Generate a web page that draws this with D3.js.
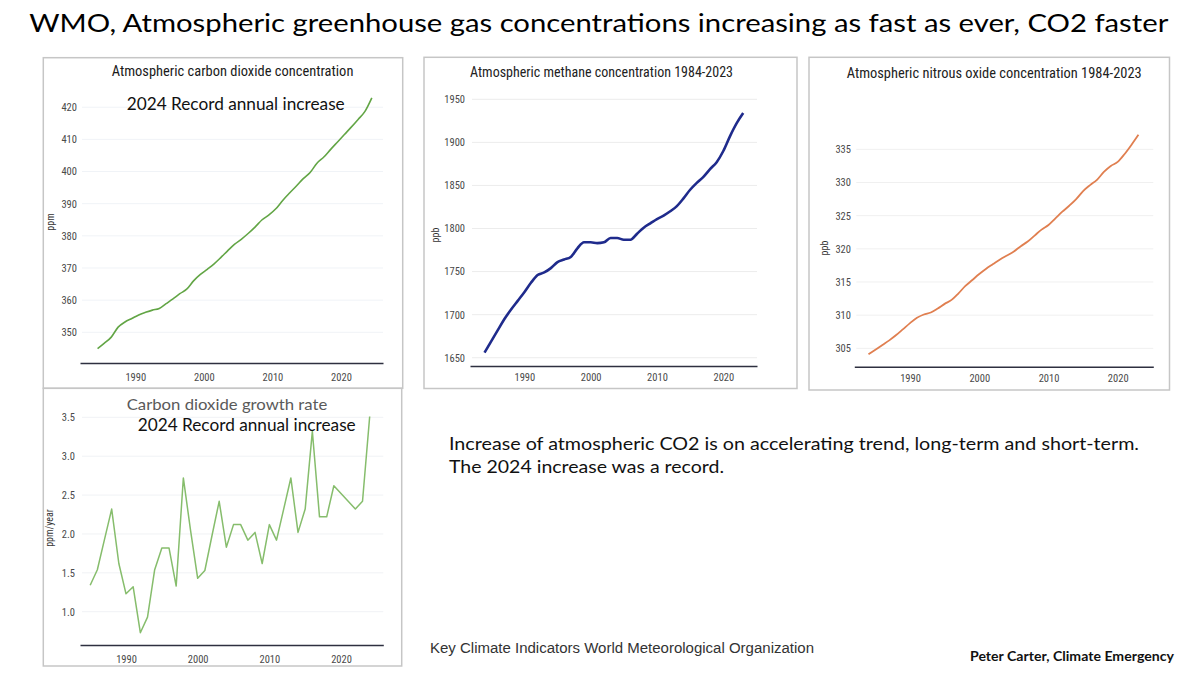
<!DOCTYPE html>
<html>
<head>
<meta charset="utf-8">
<script src="https://cdn.jsdelivr.net/npm/d3@7/dist/d3.min.js"></script>
<style>
  body { margin: 0; background: #fff; }
  svg { display: block; }
</style>
</head>
<body>
<script>
// ---- data ----
const co2Years = d3.range(1984, 2025);
const co2Values = [344.9, 346.6, 348.5, 351.6, 353.2, 354.3, 355.4, 356.2, 356.9, 357.4,
  358.9, 360.4, 362.0, 363.4, 366.0, 368.0, 369.6, 371.3, 373.3, 375.4,
  377.4, 379.0, 380.8, 382.8, 385.0, 386.5, 388.4, 391.0, 393.3, 395.5,
  397.8, 399.7, 402.6, 404.5, 406.9, 409.2, 411.5, 413.8, 416.2, 418.7, 422.9];

const growthYears = d3.range(1985, 2025);
const growthValues = [1.34, 1.54, 1.93, 2.32, 1.62, 1.23, 1.32, 0.73, 0.93, 1.54,
  1.82, 1.82, 1.33, 2.72, 2.05, 1.43, 1.53, 1.98, 2.42, 1.83,
  2.12, 2.12, 1.92, 2.02, 1.62, 2.12, 1.92, 2.32, 2.72, 2.02,
  2.32, 3.32, 2.22, 2.22, 2.62, 2.52, 2.42, 2.32, 2.42, 3.51];

const ch4Years = d3.range(1984, 2024);
const ch4Values = [1656, 1669, 1682, 1695, 1706, 1716, 1726, 1737, 1746, 1749,
  1754, 1761, 1764, 1767, 1777, 1784, 1784, 1783, 1784, 1789,
  1789, 1787, 1787, 1794, 1801, 1806, 1811, 1815, 1820, 1826,
  1835, 1845, 1853, 1860, 1869, 1877, 1890, 1907, 1922, 1934];

const n2oYears = d3.range(1984, 2024);
const n2oValues = [304.1, 304.8, 305.5, 306.2, 307.0, 307.9, 308.8, 309.6, 310.1, 310.4,
  311.0, 311.7, 312.3, 313.3, 314.4, 315.3, 316.2, 317.0, 317.7, 318.4,
  319.0, 319.6, 320.4, 321.1, 322.0, 322.9, 323.6, 324.6, 325.6, 326.5,
  327.5, 328.7, 329.6, 330.4, 331.6, 332.5, 333.1, 334.3, 335.7, 337.2];

const yearTicks = [1990, 2000, 2010, 2020];
const co2Ticks = [350, 360, 370, 380, 390, 400, 410, 420];
const ch4Ticks = [1650, 1700, 1750, 1800, 1850, 1900, 1950];
const n2oTicks = [305, 310, 315, 320, 325, 330, 335];
const growthTicks = [1.0, 1.5, 2.0, 2.5, 3.0, 3.5];

const narrowFont = "'Liberation Sans Narrow', 'Roboto Condensed', Roboto, sans-serif";
const slideFont = "Lato, 'Open Sans', sans-serif";

const svg = d3.select("body").append("svg")
  .attr("width", 1200)
  .attr("height", 675);

function zip(xs, vs) {
  return xs.map((d, i) => ({year: d, value: vs[i]}));
}

function addText(g, x, y, str, size, width, family, fill, weight) {
  let t = g.append("text")
    .attr("x", x)
    .attr("y", y)
    .text(str)
    .style("font-size", size + "px")
    .style("font-family", family)
    .style("fill", fill)
    .style("font-weight", weight || "normal");
  if (width) t.attr("textLength", width).attr("lengthAdjust", "spacingAndGlyphs");
  return t;
}

function drawPanel(p) {
  const g = svg.append("g");

  g.append("rect")
    .attr("x", p.box[0])
    .attr("y", p.box[1])
    .attr("width", p.box[2] - p.box[0])
    .attr("height", p.box[3] - p.box[1])
    .style("fill", "none")
    .style("stroke", "#c6c6c6")
    .style("stroke-width", 1.5);

  const x = d3.scaleLinear().domain(p.xDomain).range([p.left, p.right]);
  const y = d3.scaleLinear().domain(p.yDomain).range([p.axisY, p.top]);

  // faint gridlines
  g.selectAll(".grid")
    .data(p.yTicks)
    .enter()
    .append("line")
      .attr("x1", p.left + 2)
      .attr("x2", p.right)
      .attr("y1", d => y(d))
      .attr("y2", d => y(d))
      .style("stroke", p.gridColor)
      .style("stroke-width", 1);

  g.append("g")
    .attr("transform", "translate(" + p.labelX + ",0)")
    .call(d3.axisLeft(y).tickValues(p.yTicks).tickSize(0).tickPadding(0).tickFormat(p.yFormat))
    .call(a => a.select(".domain").remove())
    .call(a => a.selectAll("text")
      .style("font-family", narrowFont)
      .style("font-size", "10.5px")
      .style("fill", "#4a4a4a"));

  g.append("g")
    .attr("transform", "translate(0," + p.axisY + ")")
    .call(d3.axisBottom(x).tickValues(yearTicks).tickSize(0).tickSizeOuter(0).tickPadding(p.xPad).tickFormat(d3.format("d")))
    .call(a => a.select(".domain").style("stroke", "#2e3040").style("stroke-width", 1.6))
    .call(a => a.selectAll("text")
      .style("font-family", narrowFont)
      .style("font-size", "10.5px")
      .style("fill", "#4a4a4a"));

  g.append("text")
    .attr("transform", "translate(" + p.unitPos[0] + "," + p.unitPos[1] + ") rotate(-90)")
    .text(p.unit)
    .style("text-anchor", "middle")
    .style("font-family", narrowFont)
    .style("font-size", "10px")
    .style("fill", "#333");

  const line = d3.line()
    .x(d => x(d.year + p.shift))
    .y(d => y(d.value))
    .curve(p.curve);

  g.append("path")
    .datum(zip(p.years, p.values))
    .attr("d", line)
    .style("fill", "none")
    .style("stroke", p.color)
    .style("stroke-width", p.lineWidth)
    .style("stroke-linejoin", "round");

  return g;
}

// CO2 concentration
const co2Panel = drawPanel({
  box: [43.3, 57.7, 402.7, 388.3],
  left: 80, right: 383, top: 95, axisY: 363,
  xDomain: [1981.94, 2026.13], yDomain: [340.45, 423.8],
  yTicks: co2Ticks, yFormat: d3.format("d"),
  labelX: 77, xPad: 11, gridColor: "#f0f3f7",
  unit: "ppm", unitPos: [54, 222],
  years: co2Years, values: co2Values, shift: 0.5,
  color: "#62a545", lineWidth: 1.6, curve: d3.curveMonotoneX
});
addText(co2Panel, 111.7, 76, "Atmospheric carbon dioxide concentration", 15.5, 241.7, narrowFont, "#1a1a1a");
addText(co2Panel, 126.7, 109.5, "2024 Record annual increase", 16.5, 218, slideFont, "#111");

// CO2 growth rate
const growthPanel = drawPanel({
  box: [43.3, 388.3, 401.7, 666],
  left: 80, right: 383.3, top: 410, axisY: 645,
  xDomain: [1983.58, 2025.9], yDomain: [0.572, 3.594],
  yTicks: growthTicks, yFormat: d3.format(".1f"),
  labelX: 75, xPad: 11, gridColor: "#f0f2f5",
  unit: "ppm/year", unitPos: [53, 528],
  years: growthYears, values: growthValues, shift: 0,
  color: "#86bd6c", lineWidth: 1.5, curve: d3.curveLinear
});
addText(growthPanel, 126.7, 409.5, "Carbon dioxide growth rate", 16, 200.6, slideFont, "#5a5a5a");
addText(growthPanel, 137.7, 431, "2024 Record annual increase", 16.5, 218, slideFont, "#111");

// methane
const ch4Panel = drawPanel({
  box: [424, 57.3, 797, 388.5],
  left: 470, right: 757, top: 95, axisY: 366,
  xDomain: [1981.81, 2025.08], yDomain: [1640.4, 1955],
  yTicks: ch4Ticks, yFormat: d3.format("d"),
  labelX: 465, xPad: 8, gridColor: "#ececec",
  unit: "ppb", unitPos: [439, 235],
  years: ch4Years, values: ch4Values, shift: 0,
  color: "#1f2b8c", lineWidth: 2.6, curve: d3.curveMonotoneX
});
addText(ch4Panel, 470, 77, "Atmospheric methane concentration 1984-2023", 14.5, 263, narrowFont, "#222");

// nitrous oxide
const n2oPanel = drawPanel({
  box: [809, 57.3, 1169.5, 390],
  left: 854.3, right: 1153.3, top: 95, axisY: 366.7,
  xDomain: [1981.95, 2025.14], yDomain: [302.23, 343.19],
  yTicks: n2oTicks, yFormat: d3.format("d"),
  labelX: 851, xPad: 8, gridColor: "#f0f0f0",
  unit: "ppb", unitPos: [828, 248],
  years: n2oYears, values: n2oValues, shift: 0,
  color: "#e07f50", lineWidth: 1.8, curve: d3.curveMonotoneX
});
addText(n2oPanel, 846.7, 77.5, "Atmospheric nitrous oxide concentration 1984-2023", 14.5, 295, narrowFont, "#222");

// slide texts
addText(svg, 29.3, 31.5, "WMO, Atmospheric greenhouse gas concentrations increasing as fast as ever, CO2 faster", 25.5, 1139, slideFont, "#000");
addText(svg, 449, 450, "Increase of atmospheric CO2 is on accelerating trend, long-term and short-term.", 17, 690, slideFont, "#111");
addText(svg, 449, 473.3, "The 2024 increase was a record.", 17, 275, slideFont, "#111");
addText(svg, 430, 653, "Key Climate Indicators World Meteorological Organization", 15.5, 384, "'Liberation Sans', Arial, sans-serif", "#333");
addText(svg, 970, 660.5, "Peter Carter, Climate Emergency", 14, 204, slideFont, "#111", "bold");
</script>
</body>
</html>
